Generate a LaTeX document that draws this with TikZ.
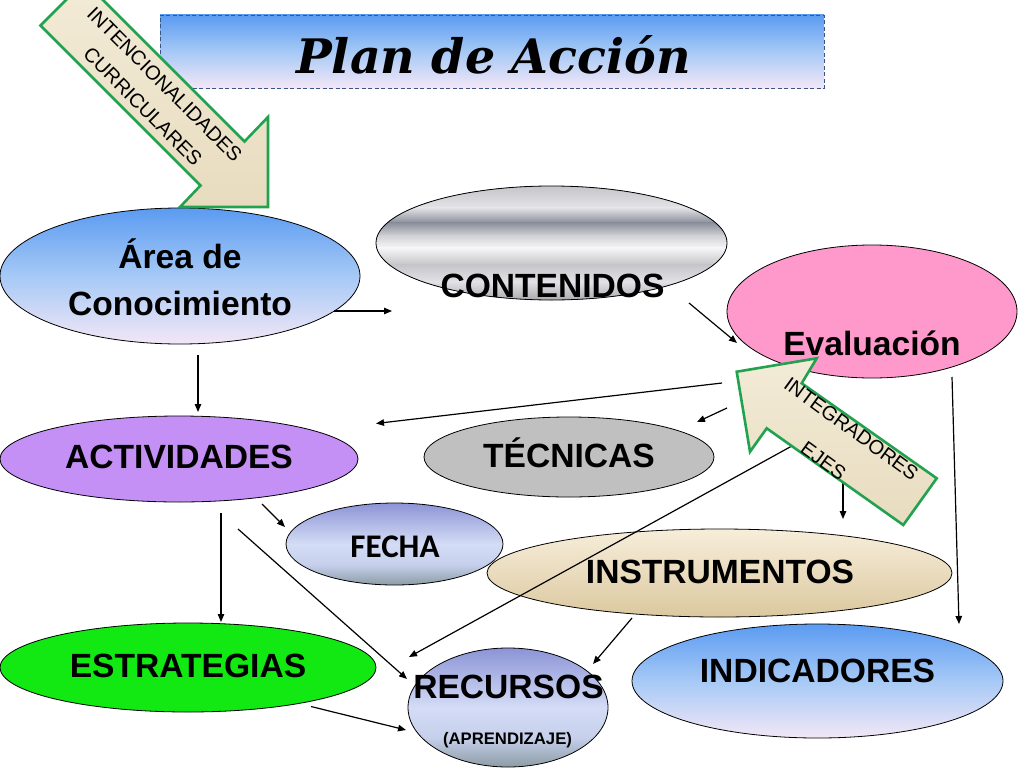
\documentclass[tikz,border=0pt]{standalone}
\usepackage{fontspec}
\setmainfont{Liberation Sans}
\newfontfamily\carlfont{Carlito}
\newfontfamily\titlefont{DejaVu Serif}
\usetikzlibrary{shapes.geometric,arrows.meta}

\definecolor{blueT}{HTML}{5B9BF1}
\definecolor{blueM}{HTML}{A6C9F6}
\definecolor{blueB}{HTML}{F3E7F6}
\definecolor{pinkE}{HTML}{FF99CC}
\definecolor{purpleA}{HTML}{C590F6}
\definecolor{grayT}{HTML}{C0C0C0}
\definecolor{greenE}{HTML}{12E812}
\definecolor{beigeT}{HTML}{F7EEDA}
\definecolor{beigeB}{HTML}{DBC89F}
\definecolor{arrowgreen}{HTML}{21A24F}
\definecolor{blkT}{HTML}{F2EBD7}
\definecolor{blkB}{HTML}{E8DCBF}
\definecolor{frameblue}{HTML}{3A5580}
\definecolor{m0}{HTML}{C4C4C8}
\definecolor{m1}{HTML}{E4E4E8}
\definecolor{m2}{HTML}{8A8E9A}
\definecolor{m3}{HTML}{D2D2D6}
\definecolor{m4}{HTML}{F6F6F8}
\definecolor{m5}{HTML}{C6C6CA}
\definecolor{m6}{HTML}{E2E2E6}
\definecolor{m7}{HTML}{A8A8AC}
\definecolor{lav1}{HTML}{8C94D6}
\definecolor{lav2}{HTML}{D4DCF6}
\definecolor{lav3}{HTML}{C6D0EC}
\definecolor{lav4}{HTML}{8C9CA4}

\pgfdeclareverticalshading{lavsh}{100bp}{color(0bp)=(lav4); color(25bp)=(lav4); color(37.5bp)=(lav3); color(50bp)=(lav2); color(75bp)=(lav1); color(100bp)=(lav1)}

\tikzset{
  ell/.style={ellipse, draw=black, line width=0.8pt, inner sep=0pt},
  lbl/.style={font=\bfseries\fontsize{33.6}{36}\selectfont, inner sep=0pt, anchor=base},
  con/.style={line width=1.2pt, -{Triangle[length=8pt,width=6.5pt]}},
  blk/.style={draw=arrowgreen, line width=2.6pt, line join=miter, top color=blkT, bottom color=blkB},
  blktxt/.style={align=center, inner sep=0pt},
  titlebox/.style={draw=frameblue, line width=0.9pt, dash pattern=on 4pt off 2.5pt, top color=blueT, bottom color=blueB, middle color=blueM}
}

\begin{document}
\begin{tikzpicture}[x=1pt,y=-1pt]
\useasboundingbox (0,0) rectangle (1024,768);
\clip (0,0) rectangle (1024,768);

% title
\node[titlebox, minimum width=664pt, minimum height=73pt, inner sep=0pt] (titlebox) at (492,51.5) {};
\node[font=\titlefont\bfseries\itshape\fontsize{47.5}{50}\selectfont, inner sep=0pt, anchor=base] (title) at (493.5,73.5) {Plan de Acción};

% ellipses
\node[ell, minimum width=360pt, minimum height=136pt, top color=blueT, bottom color=blueB, middle color=blueM] (area) at (180,276) {};
% metallic CONTENIDOS: bands clipped to the ellipse
\begin{scope}
  \clip (551.5,243) ellipse [x radius=175.5, y radius=57];
  \fill[top color=m0, bottom color=m1] (370,185) rectangle (735,208);
  \fill[top color=m1, bottom color=m2] (370,207.5) rectangle (735,223);
  \fill[top color=m2, bottom color=m3] (370,222.5) rectangle (735,236);
  \fill[top color=m3, bottom color=m4] (370,235.5) rectangle (735,248);
  \fill[top color=m4, bottom color=m5] (370,247.5) rectangle (735,265);
  \fill[top color=m5, bottom color=m6] (370,264.5) rectangle (735,282);
  \fill[top color=m6, bottom color=m7] (370,281.5) rectangle (735,301);
\end{scope}
\node[ell, minimum width=351pt, minimum height=114pt] (contenidos) at (551.5,243) {};
\node[ell, minimum width=290pt, minimum height=133pt, fill=pinkE] (evaluacion) at (872,311.5) {};
\node[ell, minimum width=358pt, minimum height=86pt, fill=purpleA] (actividades) at (179,459) {};
\node[ell, minimum width=290pt, minimum height=80pt, fill=grayT] (tecnicas) at (569,457) {};
\node[ell, minimum width=217pt, minimum height=82pt, shading=lavsh] (fecha) at (394.5,544) {};
\node[ell, minimum width=465pt, minimum height=88pt, top color=beigeT, bottom color=beigeB] (instrumentos) at (719.5,573) {};
\node[ell, minimum width=376pt, minimum height=89pt, fill=greenE] (estrategias) at (188,667.5) {};
\node[ell, minimum width=200pt, minimum height=119pt, shading=lavsh] (recursos) at (508,707.5) {};
\node[ell, minimum width=371pt, minimum height=114pt, top color=blueT, bottom color=blueB, middle color=blueM] (indicadores) at (817.5,681) {};

% connector end points
\coordinate (a2cS) at (334,311);   \coordinate (a2cE) at (392,311);
\coordinate (c2eS) at (689,303);   \coordinate (c2eE) at (737,343);
\coordinate (a2aS) at (198,355);   \coordinate (a2aE) at (198,412);
\coordinate (e2aS) at (722,383);   \coordinate (e2aE) at (376,423.5);
\coordinate (e2tS) at (727,408);   \coordinate (e2tE) at (697,422);
\coordinate (a2fS) at (262,504);   \coordinate (a2fE) at (285,527);
\coordinate (a2sS) at (221,513);   \coordinate (a2sE) at (221,622);
\coordinate (a2rS) at (238,529);   \coordinate (a2rE) at (407,679);
\coordinate (j2rS) at (800,441.5); \coordinate (j2rE) at (409,657);
\coordinate (j2iS) at (843,478);   \coordinate (j2iE) at (843,519);
\coordinate (e2nS) at (952,377);   \coordinate (e2nE) at (959,624);
\coordinate (i2rS) at (632,618);   \coordinate (i2rE) at (593,664);
\coordinate (s2rS) at (311,706.5); \coordinate (s2rE) at (406,730);

\draw[con] (a2cS) -- (a2cE);
\draw[con] (c2eS) -- (c2eE);
\draw[con] (a2aS) -- (a2aE);
\draw[con] (e2aS) -- (e2aE);
\draw[con] (e2tS) -- (e2tE);
\draw[con] (a2fS) -- (a2fE);
\draw[con] (a2sS) -- (a2sE);
\draw[con] (a2rS) -- (a2rE);
\draw[con] (j2rS) -- (j2rE);
\draw[con] (j2iS) -- (j2iE);
\draw[con] (e2nS) -- (e2nE);
\draw[con] (i2rS) -- (i2rE);
\draw[con] (s2rS) -- (s2rE);

% block arrows
\draw[blk] (40.5,25.5) -- (200.5,185.5) -- (180,207) -- (268,207) -- (268,117) -- (244.5,141.5) -- (84.5,-18.5) -- cycle;
\node[blktxt, font=\fontsize{20}{31}\selectfont, rotate=-45] (intenc) at (153.75,95.5) {INTENCIONALIDADES\\CURRICULARES};

\draw[blk] (736.7,371.7) -- (816.7,358.3) -- (801.7,383.3) -- (936.7,478.3) -- (903.3,525) -- (766.7,428.3) -- (750,451.7) -- cycle;
\node[blktxt, font=\fontsize{20}{42}\selectfont, rotate=-36] (integ) at (839,446) {INTEGRADORES\\EJES\hspace*{8pt}};

% labels
\node[lbl] (areaT1) at (180,268) {Área de};
\node[lbl] (areaT2) at (180,315) {Conocimiento};
\node[lbl] (contT) at (552.5,297) {CONTENIDOS};
\node[lbl] (evalT) at (872,355) {Evaluación};
\node[lbl] (activT) at (179,468) {ACTIVIDADES};
\node[lbl] (tecT) at (569,467) {TÉCNICAS};
\node[font=\carlfont\bfseries\fontsize{33}{36}\selectfont, inner sep=0pt, anchor=base] (fechaT) at (395,557) {FECHA};
\node[lbl] (instT) at (720,583) {INSTRUMENTOS};
\node[lbl] (estT) at (188,677) {ESTRATEGIAS};
\node[lbl] (recT) at (508.5,698) {RECURSOS};
\node[font=\bfseries\fontsize{16.7}{18}\selectfont, inner sep=0pt, anchor=base] (aprT) at (507.5,744) {(APRENDIZAJE)};
\node[lbl] (indT) at (817.5,682) {INDICADORES};
\end{tikzpicture}
\end{document}
